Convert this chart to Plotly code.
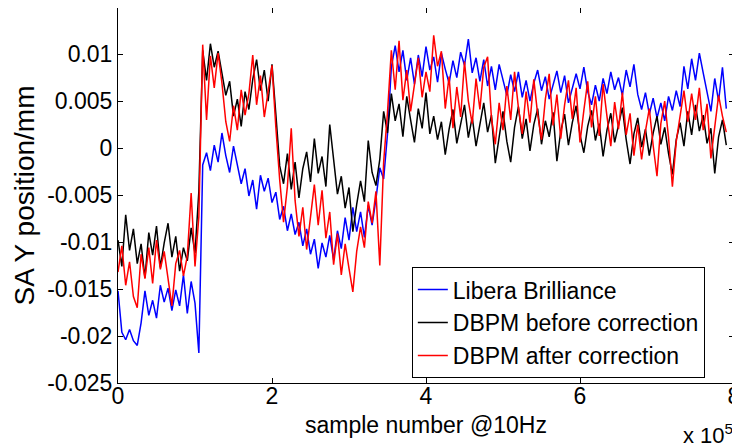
import plotly.graph_objects as go

# sample index, every 5000 samples (10 Hz)
samples = list(range(0, 795000, 5000))

# SA Y position in um (divided by 1000 below -> mm)
libera = [-15.2, -19.6, -20.4, -19.3, -20.5, -21.0, -18.6, -15.2, -17.8, -16.2,
          -18.1, -14.6, -16.4, -14.9, -17.3, -15.1, -16.8, -13.5, -17.6, -14.2,
          -16.5, -21.8, -1.8, -0.5, -2.4, 0.3, -1.5, 1.6, -0.8, -2.6,
          0.2, -1.9, -3.8, -2.2, -5.1, -3.4, -6.5, -2.9, -4.6, -3.2,
          -5.8, -4.7, -7.6, -6.2, -8.8, -7.0, -9.2, -7.9, -10.4, -8.6,
          -11.3, -9.7, -12.8, -10.1, -11.6, -9.3, -11.9, -8.8, -10.7, -7.4,
          -9.8, -6.3, -8.9, -6.8, -9.5, -6.1, -8.2, -5.4, -2.1, -3.3,
          1.5, 8.6, 10.9, 8.1, 10.4, 7.2, 9.6, 6.8, 9.9, 7.6,
          10.8, 8.3, 9.7, 7.0, 10.1, 8.4, 6.9, 9.3, 7.5, 10.2,
          8.8, 11.6, 8.0, 9.6, 7.1, 9.4, 6.6, 8.7, 6.2, 8.9,
          7.3, 5.6, 7.8, 6.0, 8.1, 5.4, 7.2, 5.0, 6.9, 8.3,
          6.1, 7.6, 5.2, 6.8, 8.2, 5.9, 7.7, 4.8, 6.4, 7.9,
          6.3, 8.6, 6.0, 4.6, 6.7, 5.0, 7.4, 5.8, 8.1, 6.2,
          7.5, 5.6, 8.3, 6.5, 8.9, 5.7, 4.1, 5.9, 3.6, 5.3,
          3.2, 4.8, 2.9, 5.5, 4.0, 6.1, 4.4, 8.7, 6.3, 9.5,
          7.2, 10.1, 8.0, 6.1, 3.9, 7.4, 5.0, 8.6, 4.2]

dbpm_before = [-9.8, -12.6, -7.1, -10.9, -8.6, -12.3, -10.2, -13.8, -9.0, -11.4,
               -8.3, -12.7, -10.1, -8.0, -11.6, -9.4, -13.1, -10.6, -12.0, -8.5,
               -11.2, -4.6, 10.4, 7.2, 11.1, 8.6, 10.3, 7.9, 5.6, 7.1,
               3.4, 5.2, 2.3, 6.0, 4.1, 7.3, 9.4, 6.1, 8.3, 5.0,
               8.9, 3.6, -1.9, -3.8, -0.6, -4.4, -1.5, -5.3, -2.2, -0.4,
               -3.6, 1.0, -2.7, -0.9, -4.1, 2.5, -1.3, -4.9, -3.0, -6.4,
               -4.2, -8.9, -6.0, -3.5, -5.7, 0.8, -2.6, -4.0, -1.2, 3.9,
               1.6, 5.8, 2.9, 4.7, 1.2, 5.5, 3.0, 0.6, 4.2, 2.1,
               5.9, 1.5, 3.4, 0.9, 2.8, -0.7, 2.0, 4.1, 0.5, 2.6,
               4.6, 1.1, 3.3, 0.2, 2.4, 4.8, 1.7, 3.5, -1.6, 1.3,
               3.9, 0.7, -1.5, 2.2, 4.4, 1.0, 3.1, -0.3, 2.5, 4.2,
               0.4, 2.9, 1.2, 3.8, -1.4, 1.8, 3.6, 0.3, 2.7, 4.5,
               1.4, -0.5, 2.3, 4.0, 0.8, 2.6, -0.9, 1.9, 3.7, 0.6,
               2.4, 4.3, 0.9, -1.7, 1.5, 3.2, 0.1, 2.0, -0.8, 1.6,
               3.4, 0.4, 2.2, -0.6, -2.8, 0.9, 2.7, 0.2, 3.9, 1.4,
               4.6, 1.8, 3.5, 0.5, 2.1, -2.7, 1.2, 3.0, 0.3]

dbpm_after = [-13.2, -10.4, -14.6, -12.1, -15.8, -17.0, -11.3, -13.9, -10.6, -14.4,
              -9.8, -12.9, -11.0, -14.2, -16.8, -12.3, -10.9, -13.6, -11.5, -4.8,
              -12.6, -7.3, 11.0, 3.0, 9.8, 6.4, 10.1, 6.9, 2.8, 0.7,
              4.5, 1.9, 6.2, 3.5, 5.8, 9.9, 4.6, 7.7, 3.3, 6.0,
              8.8, 2.2, -3.4, -7.9, -4.1, 2.1, -5.6, -9.4, -6.3, -10.8,
              -7.5, -3.9, -8.2, -4.5, -9.6, -6.8, -12.4, -9.1, -13.5, -10.2,
              -12.8, -15.3, -11.0, -8.4, -10.6, -5.7, -8.0, -4.6, -12.5, -1.5,
              3.8, 10.4, 6.2, 11.4, 5.1, 8.3, 3.9, 7.0, 9.6, 5.4,
              8.1, 6.0, 12.0, 8.7, 10.3, 4.2, 7.6, 2.1, 6.5, 3.3,
              9.2, 5.0, 2.6, 7.4, 4.1, 8.6, 9.7, 3.2, 0.4, 4.8,
              1.9, 6.6, 3.0, 8.1, 4.3, 1.5, 6.0, 2.7, 7.3, 3.6,
              0.9, 5.2, 7.9, 2.4, 5.7, 1.0, 4.6, 7.2, 3.1, 6.4,
              0.6, 4.0, 7.1, 2.2, 5.5, 1.3, 6.8, 3.4, 0.2, 4.9,
              2.0, 5.9, 1.4, 3.7, -0.8, 2.5, -1.2, 1.8, 4.2, 0.3,
              -3.0, 2.6, 5.0, 1.1, -4.1, 0.7, 3.6, 6.1, 2.8, 5.8,
              3.0, 6.4, 1.9, 4.7, -1.1, 2.3, 5.6, 3.4, 1.7]

series = [("Libera Brilliance", libera, "#0000ff"),
          ("DBPM before correction", dbpm_before, "#000000"),
          ("DBPM after correction", dbpm_after, "#ff0000")]

xtick_vals = [0, 200000, 400000, 600000, 800000]
xtick_text = ["0", "2", "4", "6", "8"]
ytick_vals = [0.01, 0.005, 0, -0.005, -0.01, -0.015, -0.02, -0.025]
ytick_text = ["0.01", "0.005", "0", "-0.005", "-0.01", "-0.015", "-0.02", "-0.025"]

fig = go.Figure()
for name, vals, color in series:
    fig.add_trace(go.Scatter(x=samples, y=[v / 1000 for v in vals], name=name,
                             mode="lines", line=dict(color=color, width=1.5)))

axis_style = dict(showline=True, linecolor="black", linewidth=1, mirror="ticks",
                  ticks="inside", ticklen=5, tickcolor="black", showgrid=False,
                  zeroline=False, automargin=False, ticklabeloverflow="allow")

fig.update_xaxes(range=[0, 800000], tickvals=xtick_vals, ticktext=xtick_text,
                 ticklabelstandoff=-8, **axis_style)
fig.update_yaxes(range=[-0.025, 0.0149], tickvals=ytick_vals, ticktext=ytick_text,
                 title=dict(text="SA Y position/mm", standoff=4), **axis_style)

# x title and exponent as annotations (page has 8px body margin)
fig.add_annotation(text="sample number @10Hz", xref="paper", yref="paper",
                   x=0.5, y=-0.112, xanchor="center", yanchor="middle",
                   showarrow=False, font=dict(size=23))
fig.add_annotation(text="x 10<sup>5</sup>", xref="paper", yref="paper",
                   x=1.002, y=-0.135, xanchor="right", yanchor="middle",
                   showarrow=False, font=dict(size=22))

fig.update_layout(
    width=732, height=439,
    margin=dict(l=110, r=6, t=0, b=64),
    paper_bgcolor="white", plot_bgcolor="white",
    font=dict(family="Liberation Sans, Arial", size=23, color="black"),
    legend=dict(x=0.477, y=0.309, xanchor="left", yanchor="top",
                bordercolor="black", borderwidth=1, bgcolor="white",
                itemwidth=30, tracegroupgap=0, font=dict(size=23)),
    showlegend=True,
)

fig.write_html("out.html")
